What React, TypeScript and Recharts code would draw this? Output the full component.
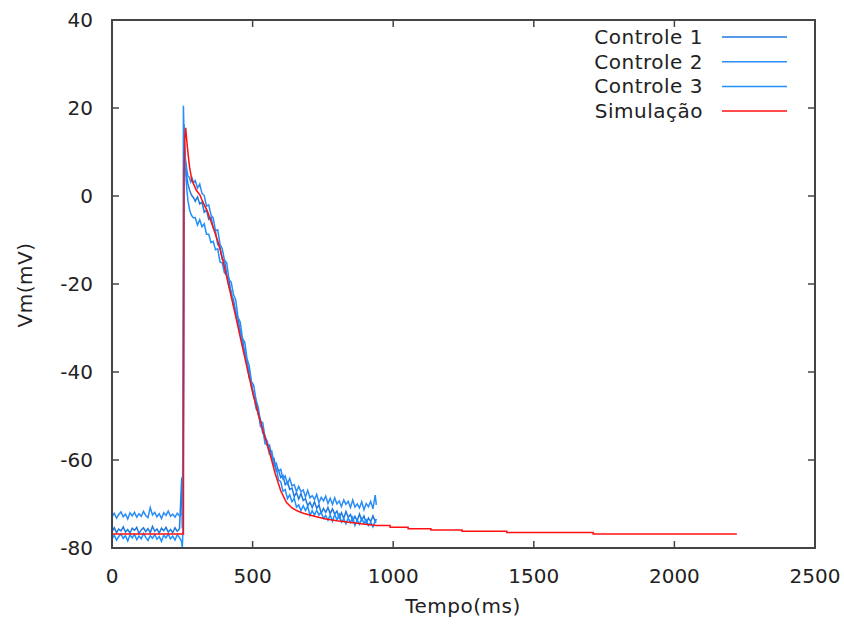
import { LineChart, Line, XAxis, YAxis, Legend, ReferenceArea } from "recharts";

// amostragem dos traçados de controle (ms)
const ctrlTime = [
  0, 8, 16, 24, 32, 40, 48, 56, 64, 72, 80, 88, 96, 104, 112, 120, 128, 136, 144, 152, 160, 168, 176, 184, 192, 200,
  208, 216, 224, 232, 240, 248,
  250, 252, 254, 256, 258, 260, 263, 266, 270, 275, 280, 285, 290,
  296, 304, 312, 320, 328, 336, 344, 352, 360, 368, 376, 384, 392, 400, 408, 416, 424, 432, 440, 448, 456, 464, 472,
  480, 488, 496, 504, 512, 520, 528, 536, 544, 552, 560, 568, 576, 584, 592, 600, 608, 616, 624, 632, 640, 648, 656,
  664, 672, 680, 688, 696, 704, 712, 720, 728, 736, 744, 752, 760, 768, 776, 784, 792, 800, 808, 816, 824, 832, 840,
  848, 856, 864, 872, 880, 888, 896, 904, 912, 920, 928, 936, 940,
];

const controle1 = [
  -76.3, -75.4, -76.5, -75.7, -76.1, -75.2, -76.4, -75.8, -76.6, -75.5, -76.0, -75.3, -76.7, -75.9, -75.4, -76.3,
  -75.6, -76.5, -75.1, -76.2, -75.7, -76.6, -75.5, -76.1, -75.3, -76.4, -75.8, -76.5, -75.4, -76.2, -75.6, -64.0,
  -75.5, -74.0, -40.0, 16.3, 11.5, 8.5, 6.0, 4.2, 2.8, 1.5, 0.6, 0.0, -0.4,
  -1.2, -0.2, -1.8, -1.4, -3.7, -3.2, -5.3, -4.8, -7.2, -8.1, -11.0, -11.6, -14.3, -14.6, -17.9, -18.8, -22.6, -23.6,
  -26.5, -27.6, -31.3, -32.4, -35.9, -37.4, -41.3, -42.4, -45.8, -46.3, -49.7, -50.8, -53.9, -54.4, -56.7, -56.6,
  -59.3, -59.6, -62.5, -62.3, -64.0, -63.5, -65.6, -65.0, -66.7, -66.4, -68.3, -67.4, -68.9, -67.6, -69.2, -68.8,
  -70.4, -69.6, -70.8, -69.5, -71.0, -70.2, -72.1, -71.0, -71.9, -70.8, -72.2, -71.1, -72.3, -71.6, -73.2, -72.0,
  -73.3, -71.7, -73.0, -72.4, -73.8, -72.8, -73.8, -72.3, -73.7, -72.7, -74.4, -73.2, -74.0, -72.7, -74.0, -73.4,
];

const controle2 = [
  -72.9, -72.1, -73.2, -72.4, -71.8, -72.9, -72.3, -73.4, -72.0, -72.7, -71.9, -73.0, -72.2, -72.8, -71.7, -72.6,
  -73.1, -70.8, -72.5, -71.9, -72.9, -72.2, -73.3, -72.0, -72.6, -71.6, -72.8, -72.3, -73.0, -72.1, -72.7, -72.2,
  -72.5, -56.0, 20.5, 14.0, 11.0, 9.0, 7.5, 6.0, 4.5, 4.2, 3.2, 4.0, 3.0,
  3.5, 1.8, 2.7, 0.6, 0.1, -2.3, -2.0, -4.3, -5.0, -7.9, -7.7, -10.9, -12.0, -14.6, -15.2, -19.0, -19.6, -22.4, -23.6,
  -27.6, -28.7, -32.4, -33.2, -36.9, -38.6, -42.2, -43.0, -46.3, -48.0, -51.3, -51.5, -54.8, -55.7, -58.1, -57.9,
  -60.9, -60.7, -62.5, -62.1, -64.3, -63.6, -65.4, -64.2, -65.9, -65.6, -67.2, -66.0, -67.2, -66.8, -68.4, -66.9,
  -68.6, -68.1, -69.0, -67.8, -69.7, -68.5, -69.3, -68.2, -69.9, -68.7, -70.1, -68.6, -70.0, -69.3, -70.6, -69.1,
  -70.1, -69.4, -70.8, -69.1, -70.7, -70.0, -70.9, -69.5, -71.3, -69.9, -70.6, -69.4, -71.1, -68.0, -70.2,
];

const controle3 = [
  -77.9, -77.1, -78.2, -77.4, -76.8, -77.8, -77.2, -78.4, -77.0, -77.7, -76.9, -78.1, -77.3, -77.9, -76.7, -77.6,
  -78.3, -77.2, -77.8, -76.9, -78.0, -77.4, -78.5, -77.1, -77.7, -76.8, -77.9, -77.3, -78.2, -77.0, -77.6, -78.6,
  -80.0, -76.5, -50.0, 5.0, 11.2, 8.0, 4.5, 1.5, -1.0, -2.8, -4.0, -4.6, -5.0,
  -4.9, -6.6, -5.4, -7.0, -6.3, -8.7, -8.7, -10.6, -10.3, -12.2, -12.0, -15.0, -15.2, -17.5, -17.9, -20.7, -21.6,
  -24.7, -26.1, -29.4, -30.4, -34.1, -34.9, -38.3, -39.4, -43.4, -45.0, -48.3, -49.2, -52.4, -52.8, -56.3, -56.5,
  -58.7, -58.8, -61.2, -61.9, -64.5, -64.9, -67.1, -66.7, -68.8, -67.9, -69.5, -68.7, -70.7, -70.2, -71.5, -70.4,
  -71.5, -70.5, -72.6, -71.5, -72.5, -71.4, -72.5, -71.9, -73.3, -72.6, -73.7, -72.5, -73.9, -72.4, -73.6, -72.4,
  -74.1, -73.4, -74.5, -73.2, -74.2, -73.0, -74.9, -73.7, -74.6, -73.3, -74.4, -73.6, -74.9, -74.2, -75.2, -73.9,
  -74.2,
];

// simulação
const simTime = [
  0, 254, 256, 259, 262, 266, 271, 276, 284, 300, 313, 320, 340, 360, 380, 400, 420, 440, 460, 480, 500, 520, 540,
  560, 580, 600, 620, 640, 660, 680, 720, 760, 800, 850, 900, 940, 989, 989, 1053, 1053, 1134, 1134, 1245, 1245,
  1404, 1404, 1711, 1711, 2222,
];
const simulacao = [
  -76.8, -76.8, 5, 13, 15.5, 12.5, 9.3, 6.5, 3.6, 1.3, 0.2, -0.9, -3.6, -7.2, -11, -16.2, -21.8, -27.4, -33.2, -39,
  -44.6, -49.5, -54, -58.2, -63, -67, -69.6, -70.9, -71.6, -72.1, -72.8, -73.4, -73.8, -74.2, -74.6, -74.9, -74.9,
  -75.3, -75.3, -75.6, -75.6, -75.9, -75.9, -76.2, -76.2, -76.5, -76.5, -76.8, -76.8,
];

const xTicks = [0, 500, 1000, 1500, 2000, 2500];
const yTicks = [-80, -60, -40, -20, 0, 20, 40];

const legendItems = [
  { name: "Controle 1", color: "#1f7ae0" },
  { name: "Controle 2", color: "#2a8cf5" },
  { name: "Controle 3", color: "#1e90ff" },
  { name: "Simulação", color: "#ff1010" },
];

const ctrlData = ctrlTime.map((t, i) => ({ t, c1: controle1[i], c2: controle2[i], c3: controle3[i] }));
const simData = simTime.map((t, i) => ({ t, v: simulacao[i] }));

const FONT = "DejaVu Sans";
const AXIS = "#444";
const TICK_LEN = 7;

const BottomTick = ({ x, y, payload }: any) => (
  <g>
    <line x1={x} y1={y} x2={x} y2={y - TICK_LEN} stroke={AXIS} strokeWidth={1.5} />
    <text x={x} y={y + 35} textAnchor="middle" fontFamily={FONT} fontSize={20} fill="#222">
      {payload.value}
    </text>
  </g>
);
const TopTick = ({ x, y }: any) => <line x1={x} y1={y} x2={x} y2={y + TICK_LEN} stroke={AXIS} strokeWidth={1.5} />;
const LeftTick = ({ x, y, payload }: any) => (
  <g>
    <line x1={x} y1={y} x2={x + TICK_LEN} y2={y} stroke={AXIS} strokeWidth={1.5} />
    <text x={x - 19} y={y + 7} textAnchor="end" fontFamily={FONT} fontSize={20} fill="#222">
      {payload.value}
    </text>
  </g>
);
const RightTick = ({ x, y }: any) => <line x1={x} y1={y} x2={x - TICK_LEN} y2={y} stroke={AXIS} strokeWidth={1.5} />;

const renderLegend = () => (
  <svg width={240} height={100}>
    {legendItems.map((it, i) => (
      <g key={it.name}>
        <text x={143} y={20 + i * 24.7} textAnchor="end" fontFamily={FONT} fontSize={20} letterSpacing={0.5} fill="#222">
          {it.name}
        </text>
        <line x1={162} x2={227} y1={13 + i * 24.7} y2={13 + i * 24.7} stroke={it.color} strokeWidth={1.5} />
      </g>
    ))}
  </svg>
);

export default function App() {
  return (
    <div style={{ position: "absolute", left: 0, top: 0, width: 844, height: 625, background: "#fff" }}>
      <LineChart width={844} height={625} margin={{ top: 19, right: 28, bottom: 47, left: 52 }}>
        <XAxis
          xAxisId="b"
          type="number"
          dataKey="t"
          domain={[0, 2500]}
          ticks={xTicks}
          allowDataOverflow
          height={30}
          tickSize={0}
          tickMargin={0}
          tick={<BottomTick />}
          tickLine={false}
          axisLine={{ stroke: AXIS, strokeWidth: 2 }}
        />
        <XAxis
          xAxisId="t"
          orientation="top"
          type="number"
          dataKey="t"
          domain={[0, 2500]}
          ticks={xTicks}
          allowDataOverflow
          height={1}
          tickSize={0}
          tickMargin={0}
          tick={<TopTick />}
          tickLine={false}
          axisLine={{ stroke: AXIS, strokeWidth: 2 }}
        />
        <YAxis
          yAxisId="l"
          type="number"
          domain={[-80, 40]}
          ticks={yTicks}
          allowDataOverflow
          width={60}
          tickSize={0}
          tickMargin={0}
          tick={<LeftTick />}
          tickLine={false}
          axisLine={{ stroke: AXIS, strokeWidth: 2 }}
        />
        <YAxis
          yAxisId="r"
          orientation="right"
          type="number"
          domain={[-80, 40]}
          ticks={yTicks}
          allowDataOverflow
          width={1}
          tickSize={0}
          tickMargin={0}
          tick={<RightTick />}
          tickLine={false}
          axisLine={{ stroke: AXIS, strokeWidth: 2 }}
        />
        <ReferenceArea xAxisId="b" yAxisId="l" x1={0} x2={2500} y1={-80} y2={40} fill="none" stroke={AXIS} strokeWidth={2} ifOverflow="visible" />
        <Legend
          layout="vertical"
          align="center"
          verticalAlign="middle"
          content={renderLegend}
          wrapperStyle={{ position: "absolute", top: 24, left: 560, width: 240, height: 100 }}
        />
        {/* série invisível só para ativar os eixos espelhados (topo/direita) */}
        <Line xAxisId="t" yAxisId="r" data={simData} dataKey="v" stroke="none" dot={false} legendType="none" isAnimationActive={false} />
        <Line xAxisId="b" yAxisId="l" data={ctrlData} dataKey="c1" name="Controle 1" stroke="#1f7ae0" strokeWidth={1.5} dot={false} isAnimationActive={false} />
        <Line xAxisId="b" yAxisId="l" data={ctrlData} dataKey="c2" name="Controle 2" stroke="#2a8cf5" strokeWidth={1.5} dot={false} isAnimationActive={false} />
        <Line xAxisId="b" yAxisId="l" data={ctrlData} dataKey="c3" name="Controle 3" stroke="#1e90ff" strokeWidth={1.5} dot={false} isAnimationActive={false} />
        <Line xAxisId="b" yAxisId="l" data={simData} dataKey="v" name="Simulação" stroke="#ff1010" strokeWidth={1.5} dot={false} isAnimationActive={false} />
      </LineChart>
      <div style={{ position: "absolute", left: 0, top: 285, width: 50, fontFamily: FONT, fontSize: 20, letterSpacing: 0.5, color: "#222", transform: "translateY(-50%) rotate(-90deg)", whiteSpace: "nowrap", display: "flex", justifyContent: "center" }}>
        Vm(mV)
      </div>
      <div style={{ position: "absolute", left: 363, top: 594, width: 200, textAlign: "center", fontFamily: FONT, fontSize: 20, letterSpacing: 0.5, color: "#222" }}>
        Tempo(ms)
      </div>
    </div>
  );
}
